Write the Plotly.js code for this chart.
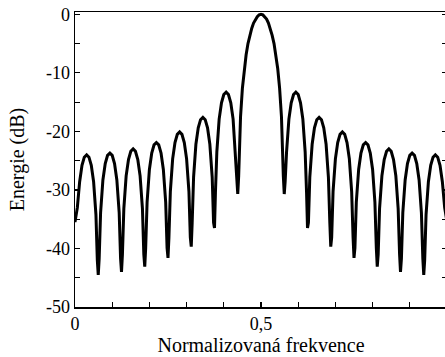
<!DOCTYPE html>
<html>
<head>
<meta charset="utf-8">
<script src="https://cdn.plot.ly/plotly-3.0.1.min.js"></script>
<style>
  html, body { margin: 0; padding: 0; overflow: hidden; background: #fff; }
  #chart { width: 450px; height: 357px; }
</style>
</head>
<body>
<div id="chart"></div>
<script>
// Normalized frequency samples
const freq = [
  0, 0.0063, 0.0125, 0.0188, 0.025, 0.0313, 0.0375, 0.0438, 0.05, 0.0563, 0.06,
  0.0625, 0.065, 0.0688, 0.075, 0.0813, 0.0875, 0.0938, 0.1, 0.1063, 0.1125, 0.1188, 0.1225,
  0.125, 0.1275, 0.1313, 0.1375, 0.1438, 0.15, 0.1563, 0.1625, 0.1688, 0.175, 0.1813, 0.185,
  0.1875, 0.19, 0.1938, 0.2, 0.2063, 0.2125, 0.2188, 0.225, 0.2313, 0.2375, 0.2438, 0.2475,
  0.25, 0.2525, 0.2563, 0.2625, 0.2688, 0.275, 0.2813, 0.2875, 0.2938, 0.3, 0.3063, 0.31,
  0.3125, 0.315, 0.3188, 0.325, 0.3313, 0.3375, 0.3438, 0.35, 0.3563, 0.3625, 0.3688, 0.3725,
  0.375, 0.3775, 0.3813, 0.3875, 0.3938, 0.4, 0.4063, 0.4125, 0.4188, 0.425, 0.4313, 0.435,
  0.4375, 0.44, 0.445, 0.45, 0.455, 0.46, 0.465, 0.47, 0.475, 0.48, 0.485, 0.49, 0.495,
  0.5,
  0.505, 0.51, 0.515, 0.52, 0.525, 0.53, 0.535, 0.54, 0.545, 0.55, 0.555, 0.56, 0.5625,
  0.565, 0.5687, 0.575, 0.5812, 0.5875, 0.5937, 0.6, 0.6062, 0.6125, 0.6187, 0.6225, 0.625,
  0.6275, 0.6312, 0.6375, 0.6437, 0.65, 0.6562, 0.6625, 0.6687, 0.675, 0.6812, 0.685, 0.6875,
  0.69, 0.6937, 0.7, 0.7062, 0.7125, 0.7187, 0.725, 0.7312, 0.7375, 0.7437, 0.7475, 0.75,
  0.7525, 0.7562, 0.7625, 0.7687, 0.775, 0.7812, 0.7875, 0.7937, 0.8, 0.8062, 0.81, 0.8125,
  0.815, 0.8187, 0.825, 0.8312, 0.8375, 0.8437, 0.85, 0.8562, 0.8625, 0.8687, 0.8725, 0.875,
  0.8775, 0.8812, 0.8875, 0.8937, 0.9, 0.9062, 0.9125, 0.9187, 0.925, 0.9312, 0.935, 0.9375,
  0.94, 0.9437, 0.95, 0.9562, 0.9625, 0.9687, 0.975, 0.9812, 0.9875, 0.9937, 1.0
];
// Energy in dB
const energy = [
  -35.5, -33.0, -28.6, -25.8, -24.4, -24.0, -24.4, -25.8, -28.6, -34.2, -42.0,
  -44.5, -41.7, -33.9, -28.3, -25.5, -24.1, -23.7, -24.1, -25.5, -28.3, -33.9, -41.7,
  -44.0, -41.0, -33.2, -27.6, -24.8, -23.4, -23.0, -23.4, -24.8, -27.6, -33.2, -41.0,
  -43.1, -39.9, -32.1, -26.5, -23.7, -22.3, -21.9, -22.3, -23.7, -26.5, -32.1, -39.9,
  -41.6, -38.1, -30.3, -24.7, -21.9, -20.5, -20.1, -20.5, -21.9, -24.7, -30.3, -38.1,
  -39.7, -35.6, -27.8, -22.2, -19.4, -18.0, -17.6, -18.0, -19.4, -22.2, -27.8, -35.6,
  -36.5, -30.5, -23.5, -17.9, -15.1, -13.7, -13.3, -13.7, -15.1, -17.9, -23.5, -28.5,
  -30.7, -27.6, -17.5, -12.6, -9.3, -6.9, -5.0, -3.6, -2.4, -1.5, -0.8, -0.4, -0.1,
  0,
  -0.1, -0.4, -0.8, -1.5, -2.4, -3.6, -5.0, -6.9, -9.3, -12.6, -17.5, -27.6, -30.7,
  -28.5, -23.5, -17.9, -15.1, -13.7, -13.3, -13.7, -15.1, -17.9, -23.5, -30.5, -36.5,
  -35.6, -27.8, -22.2, -19.4, -18.0, -17.6, -18.0, -19.4, -22.2, -27.8, -35.6, -39.7,
  -38.1, -30.3, -24.7, -21.9, -20.5, -20.1, -20.5, -21.9, -24.7, -30.3, -38.1, -41.6,
  -39.9, -32.1, -26.5, -23.7, -22.3, -21.9, -22.3, -23.7, -26.5, -32.1, -39.9, -43.1,
  -41.0, -33.2, -27.6, -24.8, -23.4, -23.0, -23.4, -24.8, -27.6, -33.2, -41.0, -44.0,
  -41.7, -33.9, -28.3, -25.5, -24.1, -23.7, -24.1, -25.5, -28.3, -33.9, -41.7, -44.5,
  -42.0, -34.2, -28.6, -25.8, -24.4, -24.0, -24.4, -25.8, -28.6, -33.0, -35.5
];
const xTickVals = [0, 0.1, 0.2, 0.3, 0.4, 0.5, 0.6, 0.7, 0.8, 0.9, 1.0];
const xTickText = ['0', '', '', '', '', '0,5', '', '', '', '', ''];
const yTickVals = [-50, -45, -40, -35, -30, -25, -20, -15, -10, -5, 0];
const yTickText = ['-50', '', '-40', '', '-30', '', '-20', '', '-10', '', '0'];

const fontFamily = '"Liberation Serif", "Times New Roman", serif';

Plotly.newPlot('chart', [{
  x: freq,
  y: energy,
  type: 'scatter',
  mode: 'lines',
  line: { color: '#000', width: 3 },
  hoverinfo: 'skip'
}], {
  width: 450,
  height: 357,
  margin: { l: 75, r: 3, t: 12, b: 50, pad: 0 },
  paper_bgcolor: '#fff',
  plot_bgcolor: '#fff',
  showlegend: false,
  font: { family: fontFamily, color: '#000', size: 18 },
  xaxis: {
    range: [0, 1],
    tickmode: 'array',
    tickvals: xTickVals,
    ticktext: xTickText,
    ticks: 'inside',
    ticklen: 5,
    tickwidth: 1.2,
    tickcolor: '#000',
    showline: true,
    linecolor: '#000',
    linewidth: 1.5,
    mirror: true,
    showgrid: false,
    zeroline: false,
    tickfont: { family: fontFamily, size: 18, color: '#000' },
    title: { text: 'Normalizovaná frekvence', font: { family: fontFamily, size: 20, color: '#000' }, standoff: 5 }
  },
  yaxis: {
    range: [-50, 0.4],
    tickmode: 'array',
    tickvals: yTickVals,
    ticktext: yTickText,
    ticks: 'inside',
    ticklen: 5,
    tickwidth: 1.2,
    tickcolor: '#000',
    showline: true,
    linecolor: '#000',
    linewidth: 1.5,
    mirror: 'ticks',
    showgrid: false,
    zeroline: false,
    tickfont: { family: fontFamily, size: 18, color: '#000' },
    title: { text: 'Energie (dB)', font: { family: fontFamily, size: 20, color: '#000' }, standoff: 16 }
  }
}, { displayModeBar: false, staticPlot: true });
</script>
</body>
</html>
